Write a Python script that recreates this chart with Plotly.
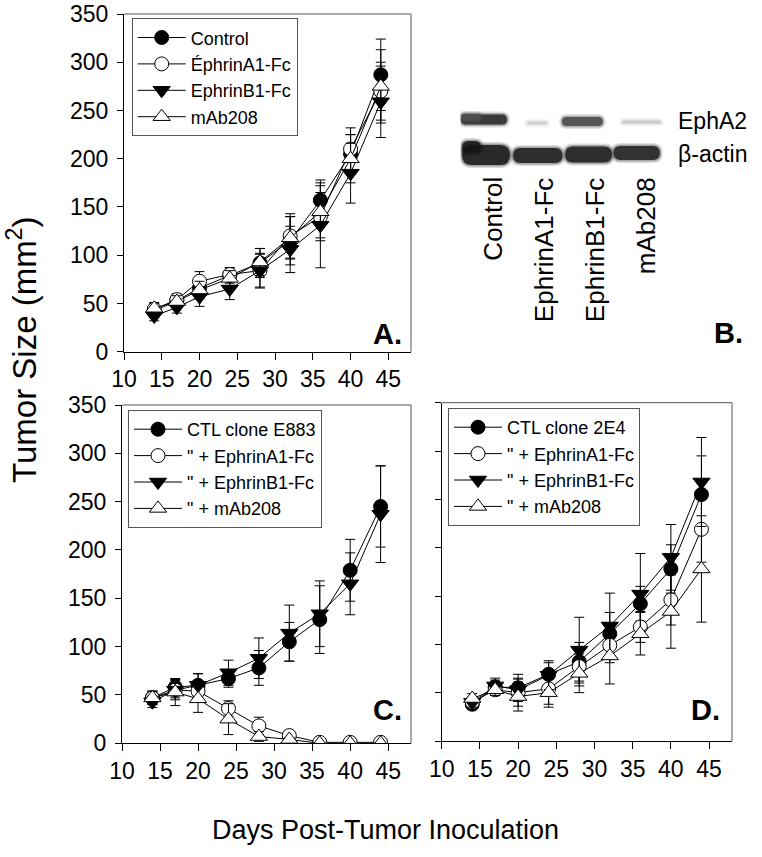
import plotly.graph_objects as go

# ---------------- data ----------------
days = [14, 17, 20, 24, 28, 32, 36, 40, 44]

a_names = ["Control", "ÉphrinA1-Fc", "EphrinB1-Fc", "mAb208"]
a_control = [42, 53, 66, 79, 92, 115, 157, 205, 287]
a_control_err = [6, 6, 8, 8, 15, 25, 21, 20, 37]
a_ephrinA1 = [44, 54, 73, 80, 84, 120, 140, 210, 270]
a_ephrinA1_err = [6, 6, 10, 7, 18, 23, 25, 22, 30]
a_ephrinB1 = [37, 46, 57, 65, 84, 106, 131, 185, 259]
a_ephrinB1_err = [5, 6, 10, 11, 17, 24, 44, 31, 37]
a_mab208 = [45, 52, 64, 76, 93, 118, 145, 200, 275]
a_mab208_err = [6, 6, 9, 8, 14, 22, 27, 25, 38]

c_names = ["CTL clone E883", "\" + EphrinA1-Fc", "\" + EphrinB1-Fc", "\" + mAb208"]
c_control = [47, 58, 60, 67, 78, 105, 128, 179, 245]
c_control_err = [7, 8, 12, 9, 18, 20, 35, 32, 42]
c_ephrinA1 = [47, 55, 54, 36, 18, 8, 1, 1, 1]
c_ephrinA1_err = [6, 8, 10, 8, 9, 3, 1, 1, 1]
c_ephrinB1 = [43, 55, 60, 73, 88, 114, 134, 165, 237]
c_ephrinB1_err = [6, 10, 12, 13, 21, 29, 34, 32, 50]
c_mab208 = [47, 53, 46, 25, 7, 4, 0, 0, 0]
c_mab208_err = [7, 14, 14, 16, 5, 2, 0, 0, 0]

d_names = ["CTL clone 2E4", "\" + EphrinA1-Fc", "\" + EphrinB1-Fc", "\" + mAb208"]
d_control = [38, 56, 55, 69, 82, 111, 142, 178, 255]
d_control_err = [5, 7, 14, 12, 20, 22, 18, 25, 40]
d_ephrinA1 = [40, 53, 50, 54, 77, 99, 118, 146, 219]
d_ephrinA1_err = [5, 6, 14, 16, 20, 18, 16, 26, 34]
d_ephrinB1 = [40, 57, 53, 68, 94, 119, 152, 190, 268]
d_ephrinB1_err = [5, 8, 12, 15, 34, 34, 42, 34, 46]
d_mab208 = [44, 53, 46, 50, 70, 88, 111, 134, 178]
d_mab208_err = [5, 6, 15, 15, 20, 29, 22, 38, 55]

x_ticks = [10, 15, 20, 25, 30, 35, 40, 45]
y_ticks = [0, 50, 100, 150, 200, 250, 300, 350]

blot_lanes = ["Control", "EphrinA1-Fc", "EphrinB1-Fc", "mAb208"]
blot_rows = ["EphA2", "β-actin"]
epha2_level = [0.92, 0.18, 0.78, 0.2]
actin_level = [1.0, 0.97, 0.97, 0.95]

# ---------------- layout helpers ----------------
W, H = 762, 857
FONT = "Liberation Sans, Arial, Helvetica, sans-serif"

def px(x):
    return x / W

def py(y):
    return 1 - y / H

styles = [
    dict(symbol="circle", color="black", size=14),
    dict(symbol="circle", color="white", size=14),
    dict(symbol="triangle-down", color="black", size=15),
    dict(symbol="triangle-up", color="white", size=15),
]

fig = go.Figure()

panels = [
    ("x", "y", "legend", a_names,
     [(a_control, a_control_err), (a_ephrinA1, a_ephrinA1_err),
      (a_ephrinB1, a_ephrinB1_err), (a_mab208, a_mab208_err)]),
    ("x2", "y2", "legend2", c_names,
     [(c_control, c_control_err), (c_ephrinA1, c_ephrinA1_err),
      (c_ephrinB1, c_ephrinB1_err), (c_mab208, c_mab208_err)]),
    ("x3", "y3", "legend3", d_names,
     [(d_control, d_control_err), (d_ephrinA1, d_ephrinA1_err),
      (d_ephrinB1, d_ephrinB1_err), (d_mab208, d_mab208_err)]),
]

for xa, ya, lg, names, series in panels:
    for name, (vals, errs), st in zip(names, series, styles):
        fig.add_trace(go.Scatter(
            x=days, y=vals, name=name, mode="lines+markers",
            xaxis=xa, yaxis=ya, legend=lg,
            line=dict(color="black", width=1),
            marker=dict(symbol=st["symbol"], color=st["color"], size=st["size"],
                        line=dict(color="black", width=1)),
            error_y=dict(type="data", array=errs, color="black",
                         thickness=1, width=5),
        ))

# invisible anchor trace for the blot panel
fig.add_trace(go.Scatter(x=[0, 3], y=[120, 150], xaxis="x4", yaxis="y4",
                         mode="markers", marker=dict(opacity=0),
                         showlegend=False, hoverinfo="skip"))

def xaxis(domain, labels=True):
    return dict(domain=domain, range=[10, 48], tickvals=x_ticks,
                showticklabels=labels, ticks="outside", ticklen=7,
                tickwidth=1, tickcolor="black", showline=True,
                linecolor="black", linewidth=1, showgrid=False,
                zeroline=False, automargin=False,
                tickfont=dict(size=23, color="black", family=FONT))

def yaxis(domain, anchor, labels=True):
    return dict(domain=domain, range=[0, 350], tickvals=y_ticks,
                showticklabels=labels, ticks="outside", ticklen=6,
                tickwidth=1, tickcolor="black", showline=True,
                linecolor="black", linewidth=1, showgrid=False,
                zeroline=False, anchor=anchor, automargin=False,
                ticklabelstandoff=4,
                tickfont=dict(size=23, color="black", family=FONT))

A_x = [px(124), px(411)]
A_y = [py(351.7), py(14)]
C_x = [px(122), px(411)]
C_y = [py(743.3), py(405)]
D_x = [px(441.7), px(732)]
D_y = [py(741), py(402.7)]

def legend(x, y):
    return dict(x=px(x), y=py(y), xanchor="left", yanchor="top",
                bgcolor="white", bordercolor="#555", borderwidth=1,
                font=dict(size=18, color="black", family=FONT),
                tracegroupgap=0, itemwidth=48)

fig.update_layout(
    width=W, height=H, margin=dict(l=0, r=0, t=0, b=0, pad=0, autoexpand=False),
    paper_bgcolor="white", plot_bgcolor="white",
    font=dict(family=FONT, color="black"),
    xaxis=dict(**xaxis(A_x), anchor="y"),
    yaxis=yaxis(A_y, "x"),
    xaxis2=dict(**xaxis(C_x), anchor="y2"),
    yaxis2=yaxis(C_y, "x2"),
    xaxis3=dict(**xaxis(D_x), anchor="y3"),
    yaxis3=yaxis(D_y, "x3", labels=False),
    xaxis4=dict(domain=[px(460.5), px(664.5)], range=[-0.5, 3.5], visible=False,
                anchor="y4", fixedrange=True, automargin=False),
    yaxis4=dict(domain=[py(180), py(100)], range=[180, 100], visible=False,
                anchor="x4", fixedrange=True, automargin=False),
    legend=legend(131.7, 18.3),
    legend2=legend(128, 410),
    legend3=legend(448, 408),
    showlegend=True,
)

shapes = []
# grey top / right frame of each panel
for xa, ya in [("x", "y"), ("x2", "y2"), ("x3", "y3")]:
    shapes.append(dict(type="line", xref=f"{xa} domain", yref=f"{ya} domain",
                       x0=0, x1=1, y0=1, y1=1, line=dict(color="#555", width=1)))
    shapes.append(dict(type="line", xref=f"{xa} domain", yref=f"{ya} domain",
                       x0=1, x1=1, y0=0, y1=1, line=dict(color="#555", width=1)))

# ---- western blot (panel B) drawn as soft bands ----
PX_PER_LANE = 51.0

def capsule(x0, x1, yc, h):
    r = min(h / PX_PER_LANE, (x1 - x0) / 2)
    return (f"M {x0 + r},{yc - h} L {x1 - r},{yc - h} "
            f"Q {x1},{yc - h} {x1},{yc} Q {x1},{yc + h} {x1 - r},{yc + h} "
            f"L {x0 + r},{yc + h} Q {x0},{yc + h} {x0},{yc} "
            f"Q {x0},{yc - h} {x0 + r},{yc - h} Z")

def band(x0, x1, yc, h, level):
    g = int(245 - 225 * level)
    col = f"rgb({g},{g},{g})"
    for grow, op in [(3.0, 0.15), (1.5, 0.3), (0.0, 0.85)]:
        gx = grow / PX_PER_LANE
        shapes.append(dict(type="path", xref="x4", yref="y4",
                           path=capsule(x0 - gx, x1 + gx, yc, h + grow),
                           fillcolor=col, opacity=op, line=dict(width=0),
                           layer="above"))

# EphA2 row (lane extents relative to lane centre)
epha2_geom = [(-0.49, 0.41, 119.5, 5.0), (-0.2, 0.2, 123, 1.6),
              (-0.51, 0.29, 121.5, 4.5), (-0.33, 0.43, 122, 1.6)]
for i, (lv, (a, b, yc, h)) in enumerate(zip(epha2_level, epha2_geom)):
    band(i + a, i + b, yc, h, lv)
# extra smear on the left of control EphA2 band
band(-0.49, -0.1, 117.5, 3.5, epha2_level[0] * 0.8)

actin_geom = [(-0.47, 0.47, 155, 10), (-0.47, 0.5, 155.5, 7.5),
              (-0.45, 0.47, 154.5, 8.0), (-0.5, 0.41, 153, 7.0)]
for i, (lv, (a, b, yc, h)) in enumerate(zip(actin_level, actin_geom)):
    band(i + a, i + b, yc, h, lv)
band(-0.47, -0.1, 147, 6.0, actin_level[0])

fig.update_layout(shapes=shapes)

ann = []
# axis titles
ann.append(dict(text="Tumor Size (mm<sup>2</sup>)", x=px(22), y=py(350),
                xref="paper", yref="paper", textangle=-90, showarrow=False,
                xanchor="center", yanchor="middle",
                font=dict(size=33, family=FONT, color="black")))
ann.append(dict(text="Days Post-Tumor Inoculation", x=px(210), y=py(830),
                xref="paper", yref="paper", showarrow=False,
                xanchor="left", yanchor="middle",
                font=dict(size=27, family=FONT, color="black")))
# panel letters
for t, x, y in [("A.", 387, 334), ("B.", 728, 333), ("C.", 387, 710), ("D.", 705, 710)]:
    ann.append(dict(text=f"<b>{t}</b>", x=px(x), y=py(y), xref="paper", yref="paper",
                    showarrow=False, xanchor="center", yanchor="middle",
                    font=dict(size=29, family=FONT, color="black")))
# blot row labels
for t, y in zip(blot_rows, [121, 154]):
    ann.append(dict(text=t, x=px(676), y=py(y), xref="paper", yref="paper",
                    showarrow=False, xanchor="left", yanchor="middle",
                    font=dict(size=23, family=FONT, color="black")))
# blot lane labels
for i, t in enumerate(blot_lanes):
    ann.append(dict(text=t, x=i + 0.13, y=175, xref="x4", yref="y4",
                    showarrow=False, textangle=-90, xanchor="center",
                    yanchor="top", font=dict(size=26, family=FONT, color="black")))

fig.update_layout(annotations=ann)

fig.write_html("out.html",
               config={"displayModeBar": False},
               post_script="document.body.style.margin='0';"
                           "document.body.style.overflow='hidden';")
